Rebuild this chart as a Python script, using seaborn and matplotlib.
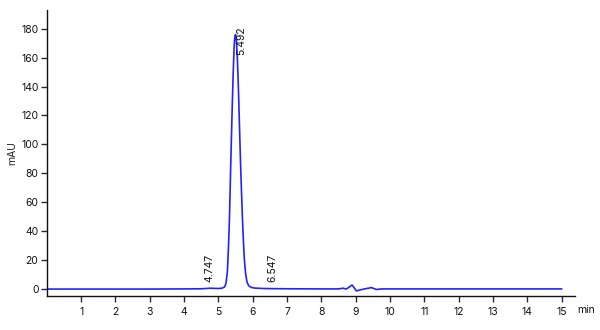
import matplotlib
matplotlib.use("Agg")
import matplotlib.pyplot as plt
import seaborn as sns
import pandas as pd

# Retention time (min) and absorbance (mAU)
time_min = [0.0, 1.0, 2.0, 3.0, 4.0, 4.5, 4.65, 4.75, 4.85, 5.0, 5.10, 5.18,
            5.22, 5.26, 5.29, 5.32, 5.36, 5.40, 5.43, 5.46, 5.48, 5.50, 5.52,
            5.55, 5.58, 5.61, 5.64, 5.67, 5.71, 5.75, 5.79, 5.83, 5.88, 5.95,
            6.05, 6.3, 6.55, 7.0, 8.0, 8.5, 8.63, 8.72, 8.80, 8.89, 8.95, 9.02,
            9.12, 9.30, 9.46, 9.60, 9.75, 10.0, 12.0, 15.0]
mau = [0.0, 0.0, 0.0, 0.0, 0.1, 0.2, 0.4, 0.6, 0.5, 0.4, 0.6, 1.5,
       4.0, 12.0, 28.0, 48.0, 88.0, 125.0, 150.0, 169.0, 175.0, 176.0, 173.0,
       160.0, 140.0, 115.0, 90.0, 68.0, 42.0, 22.0, 11.0, 5.0, 2.3, 1.2,
       0.7, 0.4, 0.3, 0.2, 0.1, 0.1, 0.6, 0.0, 1.2, 2.8, 1.0, -1.3,
       -0.6, 0.3, 1.0, -0.3, 0.1, 0.1, 0.1, 0.1]

peak_labels = ["4.747", "5.492", "6.547"]
peak_label_x = [4.747, 5.66, 6.56]
peak_label_y = [4.8, 181.5, 4.8]
peak_label_va = ["bottom", "top", "bottom"]

x_ticks = list(range(1, 16))
y_ticks = list(range(0, 181, 20))

df = pd.DataFrame({"time": time_min, "mAU": mau})

sns.set_style("ticks")
plt.rcParams["font.family"] = ["Inter", "DejaVu Sans"]

fig = plt.figure(figsize=(6.0, 3.3), dpi=100)
ax = fig.add_axes([0.078, 0.103, 0.880, 0.867])

sns.lineplot(data=df, x="time", y="mAU", ax=ax, color="#2222ff",
             linewidth=1.2, estimator=None, sort=False)

for lbl, lx, ly, va in zip(peak_labels, peak_label_x, peak_label_y, peak_label_va):
    ax.text(lx, ly, lbl, rotation=90, ha="center", va=va, fontsize=7.5,
            color="#111111")

ax.set_xlim(0, 15.38)
ax.set_ylim(-4.8, 193)
ax.set_xticks(x_ticks)
ax.set_yticks(y_ticks)
ax.tick_params(axis="both", labelsize=7.5, length=4, width=1,
               color="#1a2a40", labelcolor="#111111")
ax.tick_params(axis="x", pad=4)
ax.tick_params(axis="y", pad=2)
ax.set_xlabel("")
ax.set_ylabel("mAU", fontsize=7.5, labelpad=3)
for s in ["top", "right"]:
    ax.spines[s].set_visible(False)
for s in ["left", "bottom"]:
    ax.spines[s].set_linewidth(1.0)
    ax.spines[s].set_color("#111111")

ax.annotate("min", xy=(1.0, 0.0), xycoords="axes fraction",
            xytext=(1.5, -6.5), textcoords="offset points",
            ha="left", va="top", fontsize=7.5, color="#111111")

fig.savefig("out.png", dpi=100)
